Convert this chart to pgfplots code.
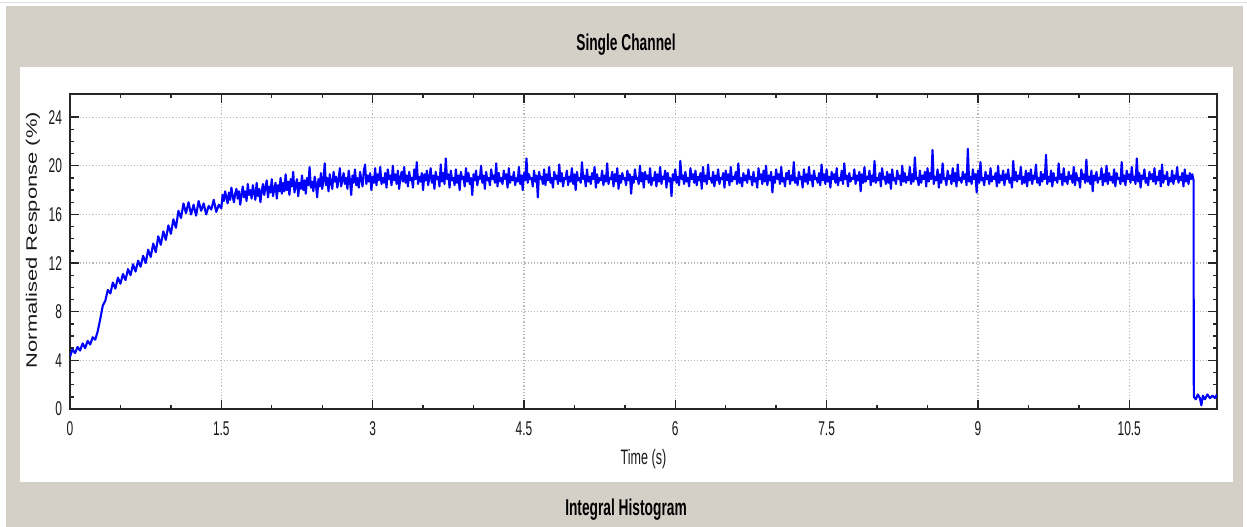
\documentclass[border=0pt]{standalone}
\usepackage{fontspec}
\setmainfont{Liberation Sans}
\newfontfamily\condfont[FakeStretch=0.6]{Liberation Sans}
\newfontfamily\longfont[FakeStretch=1.45]{Liberation Sans}
\usepackage{pgfplots}
\pgfplotsset{compat=1.18}
\definecolor{panelgrey}{RGB}{212,208,200}
\definecolor{gridgrey}{RGB}{185,185,185}

\begin{document}
\begin{tikzpicture}
\path[use as bounding box] (0,0) rectangle (623.5bp,-263.5bp);
\fill[white] (0,0) rectangle (623.5bp,-263.5bp);
\fill[panelgrey] (3bp,-3bp) rectangle (621.5bp,-263.5bp);
\draw[black!12, line width=0.6bp] (0,-1.2bp) -- (623.5bp,-1.2bp);
\fill[white] (10bp,-33.5bp) rectangle (616.5bp,-241bp);
\node[font=\condfont\bfseries\fontsize{11.5}{13}\selectfont] at (313bp,-22.5bp) {Single Channel};
\node[font=\condfont\bfseries\fontsize{11.5}{13}\selectfont] at (313bp,-255bp) {Integral\ Histogram};

\begin{axis}[
    at={(35bp,-204.5bp)}, anchor=south west,
    scale only axis,
    width=573.5bp, height=157.5bp,
    xmin=0, xmax=11.37, ymin=0, ymax=25.9,
    xtick={0,1.5,3,4.5,6,7.5,9,10.5},
    ytick={0,4,8,12,16,20,24},
    minor x tick num=2, minor y tick num=3,
    tick align=inside, tick pos=both,
    xticklabel pos=lower, yticklabel pos=left,
    major tick length=4.5bp, minor tick length=2.2bp,
    every tick/.style={black!85, line width=0.7bp},
    axis line style={black!85, line width=1bp},
    grid=major,
    major grid style={gridgrey, line width=0.6bp, dash pattern=on 0.6bp off 1bp},
    /pgf/number format/assume math mode=true,
    /pgf/number format/fixed,
    tick label style={font=\condfont\fontsize{10}{11}\selectfont, black!90},
    xticklabel style={yshift=-3bp},
    yticklabel style={xshift=-0.5bp},
    xlabel={Time (s)},
    xlabel style={at={(axis description cs:0.5,0)}, anchor=center, yshift=-25bp,
        font=\condfont\fontsize{10.5}{12}\selectfont, black!90},
    ylabel={Normalised Response (\%)},
    ylabel style={at={(axis description cs:-0.0323,0.5365)}, anchor=center,
        font=\longfont\fontsize{7.6}{9}\selectfont, black!90},
]
% rise, sampled every 25 ms
\addplot[blue, line width=1.05bp, no markers, line join=round] coordinates {
(0.000,4.3) (0.025,4.9) (0.050,4.6) (0.075,5.1) (0.100,4.8) (0.125,5.4) (0.150,5.0) (0.175,5.6) (0.200,5.3) (0.225,5.9)
(0.250,5.7) (0.275,6.4) (0.300,7.4) (0.325,8.5) (0.350,8.9) (0.375,9.8) (0.400,9.5) (0.425,10.4) (0.450,9.9) (0.475,10.8)
(0.500,10.3) (0.525,11.1) (0.550,10.6) (0.575,11.5) (0.600,11.0) (0.625,11.9) (0.650,11.3) (0.675,12.2) (0.700,11.7) (0.725,12.6)
(0.750,12.0) (0.775,13.1) (0.800,12.5) (0.825,13.6) (0.850,12.9) (0.875,14.2) (0.900,13.5) (0.925,14.6) (0.950,13.9) (0.975,15.1)
(1.000,14.4) (1.025,15.6) (1.050,14.9) (1.075,16.3) (1.100,15.7) (1.125,16.9) (1.150,16.1) (1.175,17.0) (1.200,16.0) (1.225,16.8)
(1.250,15.9) (1.275,17.1) (1.300,16.3) (1.325,16.9) (1.350,16.0) (1.375,16.7) (1.400,16.4) (1.425,17.2) (1.450,16.2) (1.475,16.8)
(1.500,16.5)
% plateau, sampled every 12.5 ms
(1.5125,17.6) (1.525,17.1) (1.5375,17.9) (1.55,17.4) (1.5625,16.9) (1.575,17.8) (1.5875,17.2) (1.6,18.2) (1.6125,17.5) (1.625,17.0) (1.6375,17.7) (1.65,18.1) (1.6625,17.3) (1.675,17.9) (1.6875,16.8) (1.7,17.6)
(1.7125,18.3) (1.725,17.4) (1.7375,17.9) (1.75,17.1) (1.7625,18.5) (1.775,17.6) (1.7875,18.0) (1.8,17.3) (1.8125,18.4) (1.825,17.8) (1.8375,17.2) (1.85,18.6) (1.8625,17.5) (1.875,18.1) (1.8875,17.0) (1.9,17.9)
(1.9125,18.5) (1.925,17.6) (1.9375,18.2) (1.95,18.8) (1.9625,17.4) (1.975,18.3) (1.9875,17.8) (2.0,18.9) (2.0125,17.5) (2.025,18.1) (2.0375,18.6) (2.05,17.3) (2.0625,18.4) (2.075,17.9) (2.0875,19.0) (2.1,17.7)
(2.1125,18.6) (2.125,17.9) (2.1375,19.3) (2.15,18.0) (2.1625,18.7) (2.175,17.6) (2.1875,18.9) (2.2,18.3) (2.2125,19.5) (2.225,17.8) (2.2375,18.4) (2.25,18.9) (2.2625,17.5) (2.275,18.6) (2.2875,18.1) (2.3,19.2)
(2.3125,18.0) (2.325,18.8) (2.3375,17.7) (2.35,19.0) (2.3625,18.4) (2.375,19.9) (2.3875,18.2) (2.4,18.7) (2.4125,17.9) (2.425,19.1) (2.4375,18.5) (2.45,17.4) (2.4625,18.9) (2.475,18.3) (2.4875,19.4) (2.5,18.1)
(2.5125,18.8) (2.525,20.2) (2.5375,18.4) (2.55,19.0) (2.5625,17.9) (2.575,19.3) (2.5875,18.6) (2.6,18.1) (2.6125,19.5) (2.625,18.7) (2.6375,19.1) (2.65,18.2) (2.6625,18.9) (2.675,19.8) (2.6875,18.3) (2.7,18.8)
(2.7125,19.4) (2.725,18.5) (2.7375,19.0) (2.75,18.1) (2.7625,19.6) (2.775,18.8) (2.7875,17.6) (2.8,19.2) (2.8125,18.6) (2.825,19.7) (2.8375,18.4) (2.85,19.0) (2.8625,18.2) (2.875,19.5) (2.8875,18.9) (2.9,18.3)
(2.9125,19.6) (2.925,20.1) (2.9375,18.5) (2.95,19.2) (2.9625,18.7) (2.975,19.4) (2.9875,18.0) (3.0,19.1) (3.0125,18.6) (3.025,19.8) (3.0375,18.4) (3.05,19.3) (3.0625,18.8) (3.075,19.9) (3.0875,18.5) (3.1,19.0)
(3.1125,18.6) (3.125,19.4) (3.1375,18.2) (3.15,19.7) (3.1625,18.9) (3.175,19.2) (3.1875,18.4) (3.2,20.0) (3.2125,18.8) (3.225,19.3) (3.2375,18.5) (3.25,19.6) (3.2625,18.1) (3.275,19.0) (3.2875,19.5) (3.3,18.7)
(3.3125,19.9) (3.325,18.6) (3.3375,19.2) (3.35,18.3) (3.3625,19.5) (3.375,18.8) (3.3875,19.0) (3.4,18.2) (3.4125,19.7) (3.425,18.9) (3.4375,20.3) (3.45,18.5) (3.4625,19.1) (3.475,18.7) (3.4875,19.4) (3.5,18.0)
(3.5125,19.3) (3.525,18.8) (3.5375,19.6) (3.55,18.4) (3.5625,19.0) (3.575,19.8) (3.5875,18.6) (3.6,19.2) (3.6125,18.1) (3.625,19.5) (3.6375,18.9) (3.65,19.1) (3.6625,18.3) (3.675,20.1) (3.6875,18.7) (3.7,19.4)
(3.7125,18.5) (3.725,20.6) (3.7375,18.9) (3.75,19.3) (3.7625,18.2) (3.775,19.6) (3.7875,18.8) (3.8,19.0) (3.8125,18.4) (3.825,19.7) (3.8375,18.6) (3.85,19.2) (3.8625,18.0) (3.875,19.5) (3.8875,18.9) (3.9,19.1)
(3.9125,18.3) (3.925,19.8) (3.9375,18.7) (3.95,19.4) (3.9625,18.5) (3.975,19.0) (3.9875,17.6) (4.0,19.3) (4.0125,18.8) (4.025,19.6) (4.0375,18.4) (4.05,19.1) (4.0625,18.9) (4.075,20.0) (4.0875,18.6) (4.1,19.2)
(4.1125,18.1) (4.125,19.5) (4.1375,18.8) (4.15,19.0) (4.1625,18.4) (4.175,19.7) (4.1875,18.9) (4.2,19.2) (4.2125,18.6) (4.225,20.2) (4.2375,18.3) (4.25,19.4) (4.2625,18.7) (4.275,19.0) (4.2875,18.5) (4.3,19.6)
(4.3125,18.9) (4.325,19.3) (4.3375,18.2) (4.35,19.8) (4.3625,18.6) (4.375,19.1) (4.3875,18.8) (4.4,19.5) (4.4125,18.4) (4.425,19.0) (4.4375,18.7) (4.45,19.9) (4.4625,18.5) (4.475,19.2) (4.4875,18.0) (4.5,19.4)
(4.5125,18.8) (4.525,20.6) (4.5375,18.6) (4.55,19.3) (4.5625,18.9) (4.575,19.0) (4.5875,18.3) (4.6,19.6) (4.6125,18.7) (4.625,19.2) (4.6375,17.4) (4.65,19.5) (4.6625,18.9) (4.675,19.1) (4.6875,18.5) (4.7,19.7)
(4.7125,18.4) (4.725,19.3) (4.7375,18.8) (4.75,19.9) (4.7625,18.6) (4.775,19.0) (4.7875,18.2) (4.8,19.5) (4.8125,18.9) (4.825,19.2) (4.8375,18.5) (4.85,20.1) (4.8625,18.7) (4.875,19.4) (4.8875,18.3) (4.9,19.0)
(4.9125,18.9) (4.925,19.6) (4.9375,18.4) (4.95,19.1) (4.9625,18.7) (4.975,19.8) (4.9875,18.5) (5.0,19.3) (5.0125,18.0) (5.025,19.5) (5.0375,18.8) (5.05,19.0) (5.0625,18.6) (5.075,20.3) (5.0875,18.9) (5.1,19.2)
(5.1125,18.3) (5.125,19.7) (5.1375,18.7) (5.15,19.1) (5.1625,18.5) (5.175,19.4) (5.1875,18.9) (5.2,19.9) (5.2125,18.2) (5.225,19.3) (5.2375,18.6) (5.25,19.0) (5.2625,18.8) (5.275,19.6) (5.2875,18.4) (5.3,19.2)
(5.3125,18.7) (5.325,20.2) (5.3375,18.5) (5.35,19.0) (5.3625,18.9) (5.375,19.5) (5.3875,18.3) (5.4,19.3) (5.4125,18.7) (5.425,19.8) (5.4375,18.1) (5.45,19.2) (5.4625,18.6) (5.475,19.4) (5.4875,18.9) (5.5,19.0)
(5.5125,18.4) (5.525,19.6) (5.5375,18.8) (5.55,19.3) (5.5625,17.7) (5.575,19.1) (5.5875,18.6) (5.6,19.7) (5.6125,18.9) (5.625,19.0) (5.6375,18.5) (5.65,20.0) (5.6625,18.7) (5.675,19.4) (5.6875,18.2) (5.7,19.5)
(5.7125,18.9) (5.725,19.2) (5.7375,18.6) (5.75,19.8) (5.7625,18.4) (5.775,19.0) (5.7875,18.8) (5.8,19.5) (5.8125,18.3) (5.825,19.3) (5.8375,18.7) (5.85,19.9) (5.8625,18.5) (5.875,19.1) (5.8875,18.9) (5.9,19.6)
(5.9125,18.2) (5.925,19.4) (5.9375,18.7) (5.95,19.0) (5.9625,17.5) (5.975,19.3) (5.9875,18.8) (6.0,19.7) (6.0125,18.6) (6.025,19.1) (6.0375,18.4) (6.05,20.4) (6.0625,18.9) (6.075,19.2) (6.0875,18.5) (6.1,19.5)
(6.1125,18.7) (6.125,19.0) (6.1375,18.3) (6.15,19.8) (6.1625,18.9) (6.175,19.3) (6.1875,18.6) (6.2,19.6) (6.2125,18.4) (6.225,19.1) (6.2375,18.8) (6.25,19.4) (6.2625,18.1) (6.275,19.9) (6.2875,18.7) (6.3,19.2)
(6.3125,18.5) (6.325,20.1) (6.3375,18.9) (6.35,19.0) (6.3625,18.6) (6.375,19.5) (6.3875,18.3) (6.4,19.2) (6.4125,18.8) (6.425,19.7) (6.4375,18.5) (6.45,19.0) (6.4625,18.9) (6.475,19.4) (6.4875,18.2) (6.5,19.6)
(6.5125,18.8) (6.525,19.3) (6.5375,18.4) (6.55,19.9) (6.5625,18.7) (6.575,19.1) (6.5875,18.9) (6.6,19.5) (6.6125,18.5) (6.625,20.2) (6.6375,18.6) (6.65,19.0) (6.6625,18.3) (6.675,19.4) (6.6875,18.8) (6.7,19.2)
(6.7125,18.6) (6.725,19.7) (6.7375,18.9) (6.75,19.1) (6.7625,18.4) (6.775,19.5) (6.7875,18.7) (6.8,19.0) (6.8125,18.2) (6.825,19.8) (6.8375,18.9) (6.85,19.3) (6.8625,18.5) (6.875,19.6) (6.8875,18.7) (6.9,20.0)
(6.9125,18.4) (6.925,19.2) (6.9375,18.8) (6.95,19.5) (6.9625,17.8) (6.975,19.1) (6.9875,18.6) (7.0,19.7) (7.0125,18.9) (7.025,19.3) (7.0375,18.5) (7.05,19.9) (7.0625,18.7) (7.075,19.0) (7.0875,18.3) (7.1,19.4)
(7.1125,18.9) (7.125,19.6) (7.1375,18.5) (7.15,19.2) (7.1625,18.8) (7.175,20.3) (7.1875,18.6) (7.2,19.0) (7.2125,18.4) (7.225,19.5) (7.2375,18.9) (7.25,19.1) (7.2625,18.2) (7.275,19.7) (7.2875,18.7) (7.3,19.3)
(7.3125,18.5) (7.325,19.9) (7.3375,18.8) (7.35,19.2) (7.3625,18.3) (7.375,19.6) (7.3875,18.9) (7.4,19.0) (7.4125,18.6) (7.425,19.4) (7.4375,18.4) (7.45,20.1) (7.4625,18.8) (7.475,19.3) (7.4875,18.5) (7.5,19.7)
(7.5125,18.7) (7.525,19.1) (7.5375,18.2) (7.55,19.5) (7.5625,18.9) (7.575,19.3) (7.5875,18.6) (7.6,19.8) (7.6125,18.4) (7.625,19.0) (7.6375,18.8) (7.65,19.6) (7.6625,18.5) (7.675,20.2) (7.6875,18.9) (7.7,19.2)
(7.7125,18.3) (7.725,19.4) (7.7375,18.7) (7.75,19.0) (7.7625,18.9) (7.775,19.7) (7.7875,18.5) (7.8,19.2) (7.8125,18.8) (7.825,19.5) (7.8375,17.9) (7.85,19.3) (7.8625,18.6) (7.875,19.9) (7.8875,18.7) (7.9,19.1)
(7.9125,18.9) (7.925,19.6) (7.9375,18.4) (7.95,19.2) (7.9625,18.7) (7.975,20.4) (7.9875,18.6) (8.0,19.0) (8.0125,18.8) (8.025,19.4) (8.0375,18.3) (8.05,19.8) (8.0625,18.9) (8.075,19.1) (8.0875,18.5) (8.1,19.5)
(8.1125,18.6) (8.125,19.3) (8.1375,18.1) (8.15,19.7) (8.1625,18.8) (8.175,19.0) (8.1875,18.5) (8.2,19.6) (8.2125,18.9) (8.225,19.2) (8.2375,18.4) (8.25,20.0) (8.2625,18.7) (8.275,19.4) (8.2875,18.6) (8.3,19.1)
(8.3125,18.8) (8.325,19.9) (8.3375,18.5) (8.35,19.3) (8.3625,18.7) (8.375,20.7) (8.3875,18.9) (8.4,19.0) (8.4125,18.4) (8.425,19.6) (8.4375,18.6) (8.45,19.2) (8.4625,18.9) (8.475,19.5) (8.4875,18.3) (8.5,19.8)
(8.5125,18.7) (8.525,19.4) (8.5375,18.9) (8.55,21.3) (8.5625,18.5) (8.575,19.1) (8.5875,18.8) (8.6,19.7) (8.6125,18.2) (8.625,19.3) (8.6375,18.6) (8.65,20.2) (8.6625,18.9) (8.675,19.0) (8.6875,18.4) (8.7,19.6)
(8.7125,18.9) (8.725,19.2) (8.7375,18.5) (8.75,19.8) (8.7625,18.7) (8.775,19.4) (8.7875,18.3) (8.8,20.1) (8.8125,18.8) (8.825,19.0) (8.8375,18.6) (8.85,19.5) (8.8625,18.9) (8.875,19.3) (8.8875,18.4) (8.9,21.4)
(8.9125,18.7) (8.925,19.1) (8.9375,18.5) (8.95,19.7) (8.9625,18.9) (8.975,19.3) (8.9875,17.8) (9.0,19.6) (9.0125,18.6) (9.025,20.3) (9.0375,18.8) (9.05,19.0) (9.0625,18.4) (9.075,19.5) (9.0875,18.9) (9.1,19.2)
(9.1125,18.5) (9.125,19.8) (9.1375,18.7) (9.15,19.1) (9.1625,18.9) (9.175,19.4) (9.1875,18.3) (9.2,20.0) (9.2125,18.6) (9.225,19.2) (9.2375,18.8) (9.25,19.6) (9.2625,18.4) (9.275,19.3) (9.2875,18.9) (9.3,19.7)
(9.3125,18.6) (9.325,19.0) (9.3375,18.2) (9.35,20.4) (9.3625,18.8) (9.375,19.5) (9.3875,18.7) (9.4,19.2) (9.4125,18.9) (9.425,19.9) (9.4375,18.5) (9.45,19.1) (9.4625,18.6) (9.475,19.6) (9.4875,18.3) (9.5,19.4)
(9.5125,18.8) (9.525,19.7) (9.5375,18.5) (9.55,19.2) (9.5625,18.9) (9.575,20.1) (9.5875,18.6) (9.6,19.0) (9.6125,18.4) (9.625,19.5) (9.6375,18.7) (9.65,19.3) (9.6625,18.9) (9.675,20.9) (9.6875,18.5) (9.7,19.1)
(9.7125,18.7) (9.725,19.6) (9.7375,18.3) (9.75,19.4) (9.7625,18.8) (9.775,19.0) (9.7875,18.6) (9.8,20.2) (9.8125,18.9) (9.825,19.3) (9.8375,18.4) (9.85,19.8) (9.8625,18.7) (9.875,19.1) (9.8875,18.5) (9.9,19.5)
(9.9125,18.9) (9.925,19.2) (9.9375,18.6) (9.95,19.9) (9.9625,18.4) (9.975,19.4) (9.9875,18.8) (10.0,19.0) (10.0125,18.2) (10.025,19.7) (10.0375,18.9) (10.05,19.3) (10.0625,18.6) (10.075,20.5) (10.0875,18.7) (10.1,19.1)
(10.1125,18.5) (10.125,19.6) (10.1375,17.9) (10.15,19.2) (10.1625,18.8) (10.175,19.5) (10.1875,18.6) (10.2,19.0) (10.2125,18.9) (10.225,19.8) (10.2375,18.4) (10.25,19.3) (10.2625,18.7) (10.275,20.0) (10.2875,18.5) (10.3,19.4)
(10.3125,18.8) (10.325,19.1) (10.3375,18.6) (10.35,19.7) (10.3625,18.3) (10.375,19.4) (10.3875,18.9) (10.4,19.0) (10.4125,18.5) (10.425,20.3) (10.4375,18.7) (10.45,19.2) (10.4625,18.4) (10.475,19.6) (10.4875,18.9) (10.5,19.3)
(10.5125,18.6) (10.525,19.9) (10.5375,18.8) (10.55,19.1) (10.5625,18.5) (10.575,20.6) (10.5875,18.7) (10.6,19.4) (10.6125,18.2) (10.625,19.2) (10.6375,18.9) (10.65,19.7) (10.6625,18.6) (10.675,19.0) (10.6875,18.4) (10.7,19.5)
(10.7125,18.9) (10.725,19.3) (10.7375,18.7) (10.75,19.8) (10.7625,18.5) (10.775,19.1) (10.7875,18.8) (10.8,19.6) (10.8125,18.3) (10.825,20.1) (10.8375,18.6) (10.85,19.2) (10.8625,18.9) (10.875,19.5) (10.8875,18.4) (10.9,19.0)
(10.9125,18.7) (10.925,19.6) (10.9375,18.5) (10.95,19.2) (10.9625,18.9) (10.975,19.9) (10.9875,18.6) (11.0,19.1) (11.0125,18.8) (11.025,19.4) (11.0375,18.3) (11.05,19.7) (11.0625,18.7) (11.075,19.2) (11.0875,18.5) (11.1,19.4)
(11.1125,18.9) (11.125,19.3) (11.1375,18.8)
% drop to baseline
(11.14,1.0) (11.16,0.8) (11.18,1.2) (11.20,0.9) (11.215,0.3) (11.23,1.1) (11.25,0.8) (11.275,1.2) (11.30,0.9) (11.325,1.1) (11.35,0.9) (11.37,1.2)
};
\end{axis}
\end{tikzpicture}
\end{document}
